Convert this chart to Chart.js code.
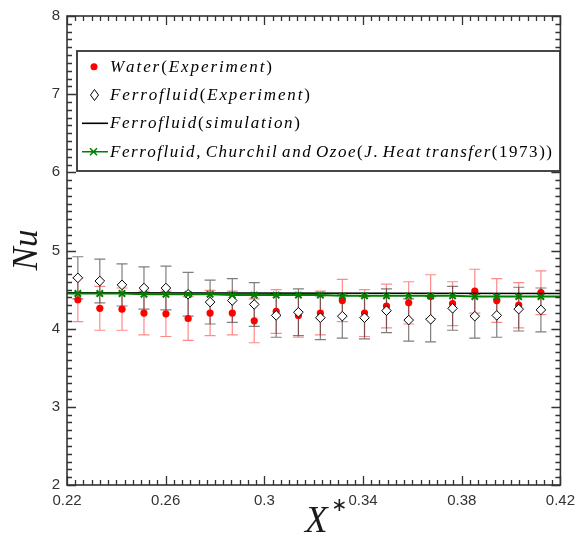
<!DOCTYPE html>
<html>
<head>
<meta charset="utf-8">
<script src="https://cdn.jsdelivr.net/npm/chart.js@4.4.1/dist/chart.umd.min.js"></script>
<style>
  html, body { margin: 0; padding: 0; background: #fff; }
  #wrap { width: 582px; height: 533px; }
</style>
</head>
<body>
<div id="wrap"><canvas id="chart" width="582" height="533"></canvas></div>
<script>
// X* positions of the measurements
var xPos = [0.2244, 0.2333, 0.2423, 0.2512, 0.2601, 0.2691, 0.2780, 0.2870, 0.2959, 0.3048, 0.3138,
            0.3227, 0.3316, 0.3406, 0.3495, 0.3585, 0.3674, 0.3763, 0.3853, 0.3942, 0.4031, 0.4121];
// Water (experiment)
var waterNu = [4.37, 4.26, 4.25, 4.20, 4.19, 4.13, 4.20, 4.20, 4.10, 4.22, 4.17,
               4.20, 4.36, 4.20, 4.29, 4.33, 4.41, 4.32, 4.48, 4.36, 4.30, 4.46];
var waterErr = [0.28, 0.28, 0.27, 0.28, 0.29, 0.28, 0.29, 0.28, 0.28, 0.28, 0.28,
                0.28, 0.27, 0.30, 0.28, 0.27, 0.28, 0.28, 0.28, 0.28, 0.29, 0.28];
// Ferrofluid (experiment)
var ferroNu = [4.65, 4.61, 4.56, 4.52, 4.52, 4.44, 4.34, 4.36, 4.31, 4.17, 4.21,
               4.14, 4.16, 4.14, 4.23, 4.11, 4.12, 4.26, 4.16, 4.17, 4.25, 4.24];
var ferroErr = [0.27, 0.28, 0.27, 0.27, 0.28, 0.28, 0.28, 0.28, 0.28, 0.28, 0.30,
                0.28, 0.28, 0.27, 0.28, 0.27, 0.29, 0.28, 0.28, 0.28, 0.28, 0.28];
// Ferrofluid (simulation)
var simX = [0.22, 0.42];
var simNu = [4.46, 4.45];
// Churchill & Ozoe correlation
var corrX = [0.22, 0.2244, 0.2333, 0.2423, 0.2512, 0.2601, 0.2691, 0.2780, 0.2870, 0.2959, 0.3048, 0.3138,
             0.3227, 0.3316, 0.3406, 0.3495, 0.3585, 0.3674, 0.3763, 0.3853, 0.3942, 0.4031, 0.4121, 0.42];
var corrNu = [4.45, 4.45, 4.45, 4.45, 4.44, 4.44, 4.44, 4.44, 4.43, 4.43, 4.43, 4.43,
              4.43, 4.42, 4.42, 4.42, 4.42, 4.42, 4.42, 4.41, 4.41, 4.41, 4.41, 4.41];
// axis ticks
var xTicks = [0.22, 0.26, 0.30, 0.34, 0.38, 0.42];
var yTicks = [2, 3, 4, 5, 6, 7, 8];

var legendItems = [
  "Water(Experiment)",
  "Ferrofluid(Experiment)",
  "Ferrofluid(simulation)",
  "Ferrofluid, Churchil and Ozoe(J. Heat transfer(1973))"
];
var legendEnds = [272, 310, 300, 552];

function pts(xs, ys) {
  return xs.map(function (x, i) { return { x: x, y: ys[i] }; });
}

var AXIS = "#333";
var SERIF = "'Liberation Serif', serif";

// math-style text: letters italic, the rest upright, stretched to end at xEnd
function drawMath(ctx, text, x, y, size, xEnd) {
  ctx.textBaseline = "alphabetic";
  ctx.textAlign = "left";
  var sp = size * 0.22, natural = 0, n = 0;
  function fontFor(c) { return (/[A-Za-z]/.test(c) ? "italic " : "") + size + "px " + SERIF; }
  for (var i = 0; i < text.length; i++) {
    var c = text[i];
    if (c === " ") { natural += sp; continue; }
    ctx.font = fontFor(c);
    natural += ctx.measureText(c).width;
    n++;
  }
  var gap = n > 1 ? Math.max(0, (xEnd - x - natural) / (n - 1)) : 0;
  for (var j = 0; j < text.length; j++) {
    var ch = text[j];
    if (ch === " ") { x += sp; continue; }
    ctx.font = fontFor(ch);
    ctx.fillText(ch, x, y);
    x += ctx.measureText(ch).width + gap;
  }
}

var errorBars = {
  id: "errorBars",
  beforeDatasetsDraw: function (chart) {
    var ctx = chart.ctx, xs = chart.scales.x, ys = chart.scales.y;
    function bars(vals, errs, color) {
      ctx.save();
      ctx.strokeStyle = color;
      ctx.lineWidth = 1.2;
      for (var i = 0; i < xPos.length; i++) {
        var px = xs.getPixelForValue(xPos[i]);
        var top = ys.getPixelForValue(vals[i] + errs[i]);
        var bot = ys.getPixelForValue(vals[i] - errs[i]);
        ctx.beginPath();
        ctx.moveTo(px, top); ctx.lineTo(px, bot);
        ctx.moveTo(px - 5.5, top); ctx.lineTo(px + 5.5, top);
        ctx.moveTo(px - 5.5, bot); ctx.lineTo(px + 5.5, bot);
        ctx.stroke();
      }
      ctx.restore();
    }
    bars(waterNu, waterErr, "rgba(255,40,40,0.55)");
    bars(ferroNu, ferroErr, "rgba(40,40,40,0.6)");
  }
};

var frame = {
  id: "frame",
  afterDraw: function (chart) {
    var ctx = chart.ctx, a = chart.chartArea, xs = chart.scales.x, ys = chart.scales.y;
    ctx.save();
    ctx.strokeStyle = AXIS;
    ctx.lineWidth = 1.3;
    ctx.beginPath();
    // x ticks, 12 minor steps per labelled step
    for (var k = 0; k <= 60; k++) {
      var v = 0.22 + k * (0.04 / 12);
      var px = Math.round(xs.getPixelForValue(v)) + 0.5;
      var len = (k % 12 === 0) ? 9 : 5;
      ctx.moveTo(px, a.bottom); ctx.lineTo(px, a.bottom - len);
      ctx.moveTo(px, a.top); ctx.lineTo(px, a.top + len);
    }
    // y ticks, minor every 0.1
    for (var j = 0; j <= 60; j++) {
      var w = 2 + j * 0.1;
      var py = Math.round(ys.getPixelForValue(w)) + 0.5;
      var l2 = (j % 10 === 0) ? 9 : 5;
      ctx.moveTo(a.left, py); ctx.lineTo(a.left + l2, py);
      ctx.moveTo(a.right, py); ctx.lineTo(a.right - l2, py);
    }
    ctx.stroke();
    ctx.lineWidth = 1.6;
    ctx.strokeRect(a.left, a.top, a.right - a.left, a.bottom - a.top);

    // axis titles
    ctx.fillStyle = "#1a1a1a";
    ctx.save();
    ctx.translate(37, 250);
    ctx.rotate(-Math.PI / 2);
    ctx.font = "italic 35px " + SERIF;
    ctx.textAlign = "center";
    ctx.textBaseline = "alphabetic";
    ctx.fillText("Nu", 0, 0);
    ctx.restore();
    ctx.font = "italic 37px " + SERIF;
    ctx.textAlign = "left";
    ctx.textBaseline = "alphabetic";
    ctx.fillText("X", 305, 532);
    ctx.font = "19px 'DejaVu Sans', sans-serif";
    ctx.textAlign = "center";
    ctx.textBaseline = "middle";
    ctx.fillText("\u2217", 339.5, 506);

    // legend box
    var lx = 77, ly = 51, lw = 483, lh = 120;
    ctx.fillStyle = "#fff";
    ctx.fillRect(lx, ly, lw, lh);
    ctx.strokeStyle = "#333";
    ctx.lineWidth = 1.8;
    ctx.strokeRect(lx, ly, lw, lh);
    var rows = [66.7, 95, 123.3, 151.7];
    ctx.fillStyle = "#000";
    legendItems.forEach(function (t, i) {
      drawMath(ctx, t, 110, rows[i] + 5, 17, legendEnds[i]);
    });
    // legend symbols
    ctx.fillStyle = "#ff0000";
    ctx.beginPath(); ctx.arc(94, rows[0], 3.5, 0, Math.PI * 2); ctx.fill();
    ctx.strokeStyle = "#000"; ctx.lineWidth = 1; ctx.fillStyle = "#fff";
    ctx.beginPath();
    ctx.moveTo(94.5, rows[1] - 5.5); ctx.lineTo(98.5, rows[1]); ctx.lineTo(94.5, rows[1] + 5.5); ctx.lineTo(90.5, rows[1]);
    ctx.closePath(); ctx.fill(); ctx.stroke();
    ctx.lineWidth = 1.6;
    ctx.beginPath(); ctx.moveTo(82, rows[2]); ctx.lineTo(108, rows[2]); ctx.stroke();
    ctx.strokeStyle = "#008000";
    ctx.beginPath(); ctx.moveTo(82, rows[3]); ctx.lineTo(108, rows[3]);
    ctx.moveTo(90, rows[3] - 3.5); ctx.lineTo(97, rows[3] + 3.5);
    ctx.moveTo(97, rows[3] - 3.5); ctx.lineTo(90, rows[3] + 3.5);
    ctx.stroke();
    ctx.restore();
  }
};

var ctx = document.getElementById("chart").getContext("2d");
new Chart(ctx, {
  type: "scatter",
  data: {
    datasets: [
      {
        label: legendItems[0],
        data: pts(xPos, waterNu),
        pointStyle: "circle",
        pointRadius: 3.6,
        backgroundColor: "#ff0000",
        borderColor: "#ff0000",
        borderWidth: 0,
        order: 4
      },
      {
        label: legendItems[1],
        data: pts(xPos, ferroNu),
        pointStyle: "rectRot",
        pointRadius: 4.8,
        backgroundColor: "#ffffff",
        borderColor: "#000000",
        borderWidth: 1,
        order: 3
      },
      {
        label: legendItems[2],
        data: pts(simX, simNu),
        showLine: true,
        pointRadius: 0,
        borderColor: "#000000",
        borderWidth: 1.6,
        order: 2
      },
      {
        label: legendItems[3],
        data: pts(corrX, corrNu),
        showLine: true,
        pointStyle: "crossRot",
        pointRadius: corrX.map(function (x, i) { return (i === 0 || i === corrX.length - 1) ? 0 : 4.5; }),
        borderColor: "#008000",
        backgroundColor: "#008000",
        borderWidth: 2,
        order: 1
      }
    ]
  },
  options: {
    responsive: false,
    animation: false,
    events: [],
    layout: { padding: { top: 13, right: 15, left: 0, bottom: 0 } },
    plugins: { legend: { display: false }, tooltip: { enabled: false } },
    scales: {
      x: {
        type: "linear",
        min: 0.22,
        max: 0.42,
        afterFit: function (s) { s.height = 48; },
        afterBuildTicks: function (s) { s.ticks = xTicks.map(function (v) { return { value: v }; }); },
        grid: { display: false, drawTicks: false },
        border: { display: false },
        ticks: {
          autoSkip: false,
          maxRotation: 0,
          padding: 7,
          color: "#333",
          font: { family: "'Liberation Sans', Arial, sans-serif", size: 15 },
          callback: function (v) { return String(Number(v.toFixed(2))); }
        }
      },
      y: {
        type: "linear",
        min: 2,
        max: 8,
        afterFit: function (s) { s.width = 67; },
        afterBuildTicks: function (s) { s.ticks = yTicks.map(function (v) { return { value: v }; }); },
        grid: { display: false, drawTicks: false },
        border: { display: false },
        ticks: {
          autoSkip: false,
          padding: 7,
          color: "#333",
          font: { family: "'Liberation Sans', Arial, sans-serif", size: 15 },
          callback: function (v) { return String(v); }
        }
      }
    }
  },
  plugins: [errorBars, frame]
});
</script>
</body>
</html>
